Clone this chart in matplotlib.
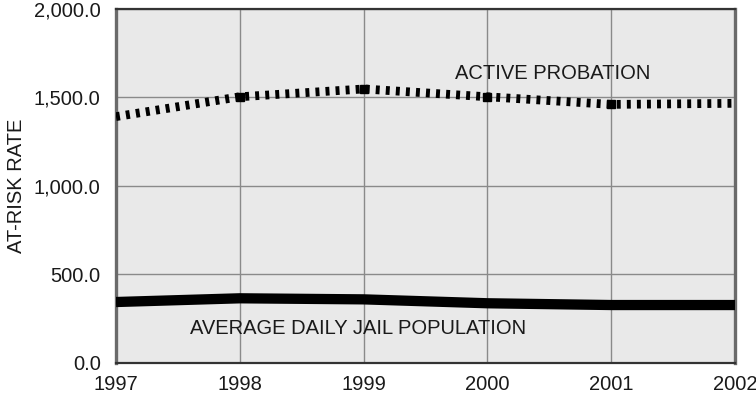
import matplotlib
matplotlib.use("Agg")
import matplotlib.pyplot as plt
from matplotlib.ticker import FuncFormatter

years = [1997, 1998, 1999, 2000, 2001, 2002]
active_probation = [1390, 1502, 1546, 1502, 1459, 1465]
jail_population = [344, 365, 359, 337, 327, 327]
y_ticks = [0, 500, 1000, 1500, 2000]

plt.rcParams['font.family'] = ['Liberation Sans', 'DejaVu Sans']

fig = plt.figure(figsize=(7.56, 3.94), dpi=100)
ax = fig.add_axes([0.1534, 0.0787, 0.8188, 0.8997])
ax.set_facecolor('#e9e9e9')

ax.plot(years, active_probation, color='black', linewidth=6.3,
        linestyle=(0, (0.45, 0.7)), solid_capstyle='butt',
        dash_capstyle='butt', zorder=3)
ax.plot(years[1:-1], active_probation[1:-1], linestyle='none', marker='s',
        markersize=6, color='black', zorder=3)
ax.plot(years, jail_population, color='black', linewidth=7.4,
        solid_capstyle='butt', zorder=3)

ax.set_xlim(1997, 2002)
ax.set_ylim(0, 2000)
ax.set_xticks(years)
ax.set_yticks(y_ticks)
ax.yaxis.set_major_formatter(FuncFormatter(lambda v, p: f"{v:,.1f}"))
ax.grid(True, color='#8a8a8a', linewidth=1.0)
ax.set_axisbelow(True)
ax.tick_params(length=0, labelsize=14.5, colors='#1a1a1a')
ax.tick_params(axis='y', pad=11)
ax.tick_params(axis='x', pad=9)

for side, (c, w) in {'left': ('#6a6a6a', 2.4), 'right': ('#6a6a6a', 2.4),
                     'top': ('#333333', 1.6), 'bottom': ('#333333', 1.6)}.items():
    ax.spines[side].set_color(c)
    ax.spines[side].set_linewidth(w)

ax.set_ylabel('AT-RISK RATE', fontsize=14.5, color='#1a1a1a', labelpad=6)

ax.text(1999.74, 1636, 'ACTIVE PROBATION', fontsize=14.5, color='#1a1a1a',
        ha='left', va='center')
ax.text(1997.60, 197, 'AVERAGE DAILY JAIL POPULATION', fontsize=14.5,
        color='#1a1a1a', ha='left', va='center')

fig.savefig('out.png', dpi=100)
